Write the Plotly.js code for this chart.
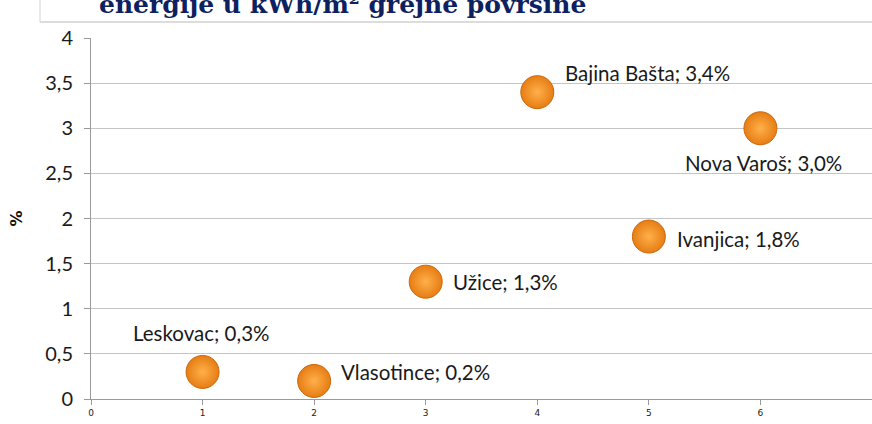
<!DOCTYPE html>
<html>
<head>
<meta charset="utf-8">
<script src="https://cdn.plot.ly/plotly-3.0.1.min.js"></script>
<style>html,body{margin:0;padding:0;background:#fff;}#chart{width:872px;height:424px;}</style>
</head>
<body>
<div id="chart"></div>
<script>
const cities = ["Leskovac", "Vlasotince", "Užice", "Bajina Bašta", "Ivanjica", "Nova Varoš"];
const xValues = [1, 2, 3, 4, 5, 6];
const yValues = [0.3, 0.2, 1.3, 3.4, 1.8, 3.0];
const yTickVals = [0, 0.5, 1, 1.5, 2, 2.5, 3, 3.5, 4];
const yTickText = ["0", "0,5", "1", "1,5", "2", "2,5", "3", "3,5", "4"];
const xTickVals = [0, 1, 2, 3, 4, 5, 6, 7];
const titleText = "energije u kWh/m² grejne površine";

// label placement per point: [xanchor, yanchor, xshift, yshift]
const labelPlace = [
  ["center", "bottom", -2, 25],
  ["left", "middle", 25, 9],
  ["left", "middle", 25, 0],
  ["left", "middle", 26, 19],
  ["left", "middle", 26, -2],
  ["center", "top", 3, -21]
];

const fmt = v => v.toFixed(1).replace(".", ",");
const annotations = cities.map((c, i) => ({
  x: xValues[i], y: yValues[i], xref: "x", yref: "y",
  text: c + "; " + fmt(yValues[i]) + "%",
  showarrow: false,
  xanchor: labelPlace[i][0], yanchor: labelPlace[i][1],
  xshift: labelPlace[i][2], yshift: labelPlace[i][3],
  font: {family: "Lato, 'Open Sans', sans-serif", size: 20.5, color: "#1a1a1a"}
}));
annotations.push({
  text: "<b>" + titleText + "</b>",
  xref: "paper", yref: "paper", x: 0.008, y: 1.048, xanchor: "left", yanchor: "bottom",
  showarrow: false,
  font: {family: "'DejaVu Serif', serif", size: 25, color: "#0d2161"}
});

const trace = {
  type: "scatter", mode: "markers",
  x: xValues, y: yValues,
  marker: {
    size: 33, color: "#e67d14",
    gradient: {type: "radial", color: "#ffb04a"},
    line: {color: "#c9680c", width: 1}
  },
  cliponaxis: false,
  hoverinfo: "none"
};

const layout = {
  width: 872, height: 424,
  margin: {l: 91, r: 0, t: 38, b: 25},
  paper_bgcolor: "#ffffff", plot_bgcolor: "#ffffff",
  showlegend: false,
  xaxis: {
    range: [0, 7], tickvals: xTickVals, ticktext: xTickVals.map(String),
    showgrid: false, zeroline: false,
    showline: true, linecolor: "#9a9a9a", linewidth: 1,
    ticks: "outside", ticklen: 5, tickcolor: "#9a9a9a",
    tickfont: {family: "'DejaVu Sans', sans-serif", size: 9, color: "#222"}
  },
  yaxis: {
    range: [0, 4], tickvals: yTickVals, ticktext: yTickText,
    showgrid: true, gridcolor: "#c4c4c4", gridwidth: 1, zeroline: false,
    showline: true, linecolor: "#9a9a9a", linewidth: 1,
    ticks: "outside", ticklen: 6, tickcolor: "#9a9a9a",
    ticklabelstandoff: 7,
    tickfont: {family: "Lato, 'Open Sans', sans-serif", size: 20, color: "#1a1a1a"},
    title: {text: "<b>%</b>", standoff: 18, font: {family: "'DejaVu Sans', sans-serif", size: 16, color: "#111"}}
  },
  annotations: annotations,
  shapes: [
    {type: "line", xref: "paper", yref: "paper", x0: -0.0653, x1: 1, y0: 1.0443, y1: 1.0443, line: {color: "#d0d0d0", width: 1.5}},
    {type: "line", xref: "paper", yref: "paper", x0: -0.0653, x1: -0.0653, y0: 1.0443, y1: 1.12, line: {color: "#e0e0e0", width: 1.5}}
  ]
};

Plotly.newPlot("chart", [trace], layout, {staticPlot: true, displayModeBar: false});
</script>
</body>
</html>
